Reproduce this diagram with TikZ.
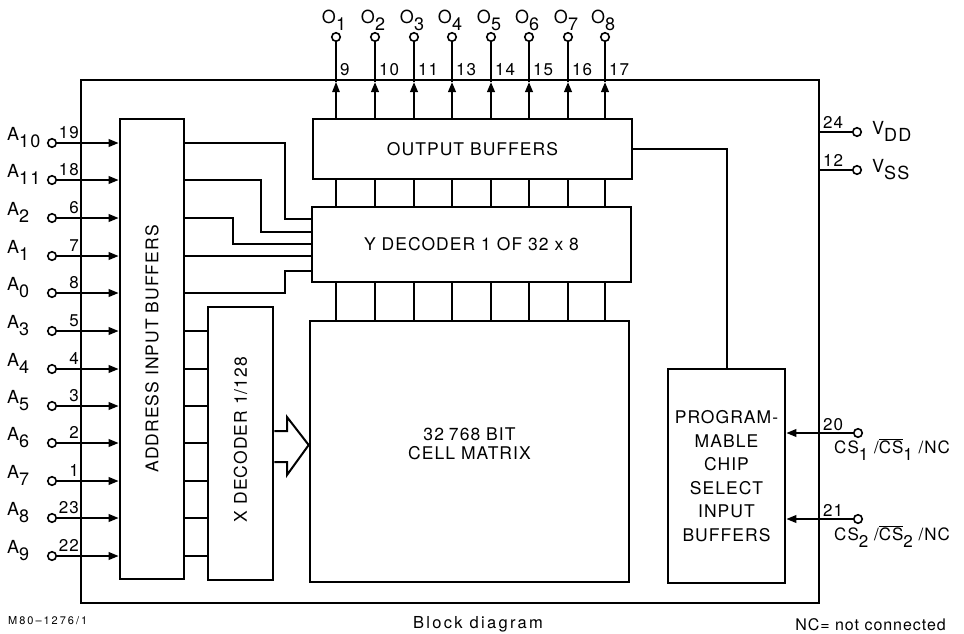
\documentclass[tikz,border=0pt]{standalone}
\usepackage{fontspec}
\setmainfont[LetterSpace=6]{TeX Gyre Heros}
\usetikzlibrary{arrows.meta, positioning, calc}

\newcommand{\lowsub}[1]{\raisebox{-7pt}{#1}}
\newcommand{\blockfont}{\fontsize{17.5}{23.5}\selectfont}

\begin{document}
\begin{tikzpicture}[
    x=1pt, y=-1pt,
    block/.style={draw,line width=2.6pt,inner sep=0pt,align=center,font=\blockfont},
    chipbox/.style={draw,line width=2pt,inner sep=0pt},
    wire/.style={line width=2pt},
    col/.style={line width=2.4pt},
    arr/.style={line width=2pt,-{Triangle[length=10pt,width=7.5pt]}},
    pin/.style={circle,draw,line width=1.6pt,inner sep=0pt,minimum size=8.5pt,fill=white},
    pinlbl/.style={font=\fontsize{18}{20}\selectfont,inner sep=0pt},
    pinnum/.style={font=\fontsize{17}{19}\selectfont,inner sep=0pt},
    caption/.style={font=\fontsize{16}{18}\selectfont,inner sep=0pt},
  ]
    \useasboundingbox (0,0) rectangle (964,633);

    % package outline and blocks
    \node[chipbox, minimum width=738pt, minimum height=523pt] (chip) at (450,341.5) {};
    \node[block, minimum width=64pt, minimum height=460pt] (aib) at (152,349) {};
    \node[rotate=90, font=\blockfont] (aibtxt) at (aib.center) {ADDRESS INPUT BUFFERS};
    \node[block, minimum width=65pt, minimum height=273pt] (xdec) at (240.5,443.5) {};
    \node[rotate=90, font=\blockfont] (xdectxt) at ($(xdec.center)+(0,-4)$) {X DECODER 1/128};
    \node[block, minimum width=319pt, minimum height=60pt] (ob) at (472.5,149) {OUTPUT BUFFERS};
    \node[block, minimum width=319pt, minimum height=75pt] (ydec) at (471.5,244.5) {Y DECODER 1 OF 32 x 8};
    \node[block, minimum width=319pt, minimum height=261pt] (mat) at (469.5,451.5) {};
    \node[align=center, font=\fontsize{17.5}{19}\selectfont] (mattxt) at ($(mat.center)+(0,-8)$) {32\hspace{5pt}768 BIT\\CELL MATRIX};
    \node[block, minimum width=117pt, minimum height=214pt] (pcs) at (726.5,476) {PROGRAM-\\MABLE\\CHIP\\SELECT\\INPUT\\BUFFERS};

    % address inputs
    \foreach \nm/\sb/\num/\yy in {A10/10/19/143, A11/11/18/180, A2/2/6/218, A1/1/7/256,
        A0/0/8/293, A3/3/5/331, A4/4/4/369, A5/5/3/406, A6/6/2/443, A7/7/1/481,
        A8/8/23/518, A9/9/22/556}
    {
      \node[pin] (p\nm) at (52,\yy) {};
      \node[pinlbl, anchor=base west] (l\nm) at (7,\yy-3) {A\lowsub{\sb}};
      \node[pinnum, anchor=base east] (n\nm) at (79,\yy-5) {\num};
      \draw[arr] (p\nm) -- (aib.west |- p\nm);
    }

    % buffers to Y decoder
    \draw[wire] (aib.east |- pA10) -| (285,219) -- (ydec.west |- 0,219);
    \draw[wire] (aib.east |- pA11) -| (261,232) -- (ydec.west |- 0,232);
    \draw[wire] (aib.east |- pA2) -| (233,244) -- (ydec.west |- 0,244);
    \draw[wire] (aib.east |- pA1) -- (ydec.west |- pA1);
    \draw[wire] (aib.east |- pA0) -| (285,271) -- (ydec.west |- 0,271);

    % buffers to X decoder
    \foreach \nm in {A3,A4,A5,A6,A7,A8,A9}
      \draw[wire] (aib.east |- p\nm) -- (xdec.west |- p\nm);

    % X decoder to matrix
    \draw[line width=2pt, fill=white, line join=miter] (xdec.east |- 0,431) -- (287,431) -- (287,417)
      -- (mat.west |- 0,445) -- (287,475) -- (287,462) -- (xdec.east |- 0,462);

    % outputs and columns
    \foreach \k/\xx/\num/\lw in {1/336/9/1.2, 2/375/10/2.2, 3/414/11/2.2, 4/452/13/2.2,
        5/491/14/2.2, 6/529/15/2.2, 7/568/16/2.2, 8/605/17/2.2}
    {
      \node[pin] (pO\k) at (\xx,37) {};
      \node[pinlbl, anchor=base] (lO\k) at (\xx-2,23) {O\lowsub{\k}};
      \node[pinnum, anchor=base west] (nO\k) at (\xx+4,75) {\num};
      \coordinate (tO\k) at (\xx,82);
      \draw[arr, line width=\lw pt] (ob.north -| pO\k) -- (tO\k);
      \draw[wire, line width=\lw pt] (tO\k) -- (pO\k);
      \draw[col] (ob.south -| pO\k) -- (ydec.north -| pO\k);
      \draw[col] (ydec.south -| pO\k) -- (mat.north -| pO\k);
    }

    % chip select
    \draw[wire] (ob.east) -| (pcs.north);
    \node[pin] (pCS1) at (858,433) {};
    \node[pinnum, anchor=base west] (nCS1) at (823,430) {20};
    \node[pinlbl, anchor=base west, font=\fontsize{17}{19}\selectfont] (lCS1) at (834,453) {CS\lowsub{1} /$\overline{\mbox{CS}}$\lowsub{1} /NC};
    \draw[arr] (pCS1) -- (pcs.east |- pCS1);
    \node[pin] (pCS2) at (858,519) {};
    \node[pinnum, anchor=base west] (nCS2) at (823,516) {21};
    \node[pinlbl, anchor=base west, font=\fontsize{17}{19}\selectfont] (lCS2) at (834,540) {CS\lowsub{2} /$\overline{\mbox{CS}}$\lowsub{2} /NC};
    \draw[arr] (pCS2) -- (pcs.east |- pCS2);

    % supply
    \node[pin] (pVDD) at (857,132) {};
    \node[pinnum, anchor=base west] (nVDD) at (823,128) {24};
    \node[pinlbl, anchor=base west] (lVDD) at (872,134) {V\lowsub{DD}};
    \draw[wire] (chip.east |- pVDD) -- (pVDD);
    \node[pin] (pVSS) at (857,170) {};
    \node[pinnum, anchor=base west] (nVSS) at (823,166) {12};
    \node[pinlbl, anchor=base west] (lVSS) at (872,172) {V\lowsub{SS}};
    \draw[wire] (chip.east |- pVSS) -- (pVSS);

    % captions
    \node[caption, anchor=base west, font=\fontsize{11}{13}\selectfont\addfontfeature{LetterSpace=18}] (fig) at (8,624) {M80--1276/1};
    \node[caption, anchor=base, font=\fontsize{16.5}{18}\selectfont\addfontfeature{LetterSpace=14}] (cap) at (478,628) {Block diagram};
    \node[caption, anchor=base east] (nc) at (946,630) {NC= not connected};
  \end{tikzpicture}
\end{document}
